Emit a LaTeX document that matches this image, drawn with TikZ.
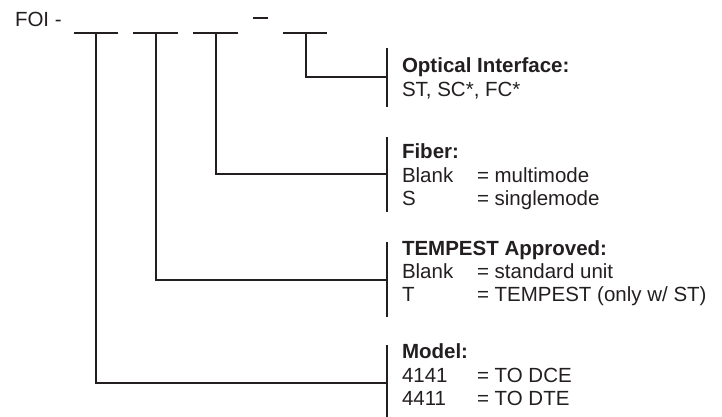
\documentclass[tikz,border=0pt]{standalone}
\usepackage{fontspec}
\setmainfont{Liberation Sans}
\definecolor{ink}{HTML}{231F20}
\begin{document}
\begin{tikzpicture}[x=1pt,y=-1pt,
  ln/.style={draw=ink,line width=1.6pt},
  txt/.style={anchor=base west,inner sep=0pt,outer sep=0pt,text=ink,font=\fontsize{20.5}{23.5}\selectfont},
  hd/.style={txt,font=\fontsize{20.5}{23.5}\selectfont\bfseries}]
\useasboundingbox (0,0) rectangle (722,417);
% header
\node[txt] (foi) at (15,27) {FOI -};
\coordinate (b1l) at (74,33); \coordinate (b1r) at (118,33); \coordinate (b1) at (96,33);
\coordinate (b2l) at (133,33); \coordinate (b2r) at (178,33); \coordinate (b2) at (156,33);
\coordinate (b3l) at (193,33); \coordinate (b3r) at (238,33); \coordinate (b3) at (216,33);
\coordinate (b4l) at (283,33); \coordinate (b4r) at (327,33); \coordinate (b4) at (306,33);
\coordinate (dl) at (253,18); \coordinate (dr) at (268,18);
\draw[ln] (b1l) -- (b1r);
\draw[ln] (b2l) -- (b2r);
\draw[ln] (b3l) -- (b3r);
\draw[ln] (b4l) -- (b4r);
\draw[ln] (dl) -- (dr);
% brackets
\coordinate (k1t) at (387,48); \coordinate (k1b) at (387,107); \coordinate (k1) at (387,77);
\coordinate (k2t) at (387,137); \coordinate (k2b) at (387,212); \coordinate (k2) at (387,174);
\coordinate (k3t) at (387,242); \coordinate (k3b) at (387,317); \coordinate (k3) at (387,280);
\coordinate (k4t) at (387,345); \coordinate (k4b) at (387,420); \coordinate (k4) at (387,383);
\draw[ln] (k1t) -- (k1b);
\draw[ln] (k2t) -- (k2b);
\draw[ln] (k3t) -- (k3b);
\draw[ln] (k4t) -- (k4b);
% connectors
\draw[ln] (b4) |- (k1);
\draw[ln] (b3) |- (k2);
\draw[ln] (b2) |- (k3);
\draw[ln] (b1) |- (k4);
% texts
\node[hd] (oi) at (402,73) {Optical Interface:};
\node[txt] (oi1) at (402,96) {ST, SC*, FC*};
\node[hd] (fi) at (402,158) {Fiber:};
\node[txt] (fi1a) at (402,182) {Blank};
\node[txt] (fi1b) at (477,182) {= multimode};
\node[txt] (fi2a) at (402,205) {S};
\node[txt] (fi2b) at (477,205) {= singlemode};
\node[hd] (te) at (402,255) {TEMPEST Approved:};
\node[txt] (te1a) at (402,278) {Blank};
\node[txt] (te1b) at (477,278) {= standard unit};
\node[txt] (te2a) at (402,301) {T};
\node[txt] (te2b) at (477,301) {= TEMPEST (only w/ ST)};
\node[hd] (mo) at (402,358) {Model:};
\node[txt] (mo1a) at (402,382) {4141};
\node[txt] (mo1b) at (477,382) {= TO DCE};
\node[txt] (mo2a) at (402,405) {4411};
\node[txt] (mo2b) at (477,405) {= TO DTE};
\end{tikzpicture}
\end{document}
